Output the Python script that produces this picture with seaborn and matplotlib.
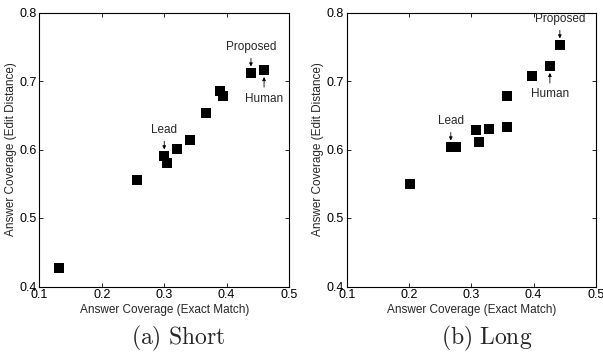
import matplotlib
matplotlib.use("Agg")
import matplotlib.pyplot as plt
import seaborn as sns
import pandas as pd

# Short answers
short_x = [0.132, 0.256, 0.300, 0.304, 0.320, 0.341, 0.367, 0.390, 0.394, 0.439, 0.460]
short_y = [0.427, 0.556, 0.590, 0.580, 0.601, 0.614, 0.653, 0.685, 0.678, 0.711, 0.716]
# Long answers
long_x = [0.202, 0.267, 0.275, 0.308, 0.313, 0.328, 0.357, 0.357, 0.398, 0.426, 0.442]
long_y = [0.549, 0.603, 0.603, 0.629, 0.611, 0.630, 0.633, 0.678, 0.707, 0.722, 0.752]

# annotated systems: (label, index, direction)
short_notes = [("Proposed", 9, "above"), ("Human", 10, "below"), ("Lead", 2, "above")]
long_notes = [("Proposed", 10, "above"), ("Human", 9, "below"), ("Lead", 1, "above")]

captions = ["(a) Short", "(b) Long"]
xlabel = "Answer Coverage (Exact Match)"
ylabel = "Answer Coverage (Edit Distance)"
xticks = [0.1, 0.2, 0.3, 0.4, 0.5]
yticks = [0.4, 0.5, 0.6, 0.7, 0.8]

sns.set_theme(style="ticks")
plt.rcParams["font.family"] = ["Liberation Sans", "DejaVu Sans"]
plt.rcParams["mathtext.fontset"] = "cm"

fig = plt.figure(figsize=(6.03, 3.56), dpi=100)
W, H = 603, 356
boxes = [(39.5, 12.5, 249.5, 274.0), (346.7, 12.5, 249.3, 274.0)]
datasets = [(short_x, short_y, short_notes), (long_x, long_y, long_notes)]
cap_x = [178, 487]

for (l, t, w, h), (xs, ys, notes), cap, cx in zip(boxes, datasets, captions, cap_x):
    ax = fig.add_axes([l / W, (H - t - h) / H, w / W, h / H])
    df = pd.DataFrame({"x": xs, "y": ys})
    sns.scatterplot(data=df, x="x", y="y", marker="s", s=46, color="black",
                    edgecolor="black", linewidth=0, ax=ax, legend=False)
    ax.set_xlim(0.1, 0.5)
    ax.set_ylim(0.4, 0.8)
    ax.set_xticks(xticks)
    ax.set_yticks(yticks)
    ax.set_xticklabels([f"{v:g}" for v in xticks], fontsize=9)
    ax.set_yticklabels([f"{v:g}" for v in yticks], fontsize=9)
    ax.tick_params(direction="in", length=3, width=0.6, top=True, right=True,
                   pad=2, colors="black")
    for sp in ax.spines.values():
        sp.set_visible(True)
        sp.set_linewidth(0.8)
        sp.set_color("black")
    ax.set_xlabel(xlabel, fontsize=8.5, labelpad=2)
    ax.set_ylabel(ylabel, fontsize=8.5, labelpad=2)
    for label, i, d in notes:
        off = 19 if d == "above" else -20.5
        ax.annotate(label, xy=(xs[i], ys[i]), xytext=(0, off),
                    textcoords="offset points", ha="center", va="center",
                    fontsize=8.5,
                    arrowprops=dict(arrowstyle="-|>", color="black", lw=0.6,
                                    mutation_scale=5, shrinkA=1.5, shrinkB=5))
    fig.text(cx / W, 1 - 338 / H, r"$\mathrm{" + cap.replace(" ", r"\ ") + "}$",
             ha="center", va="center", fontsize=17)

fig.savefig("out.png", dpi=100, facecolor="white")
